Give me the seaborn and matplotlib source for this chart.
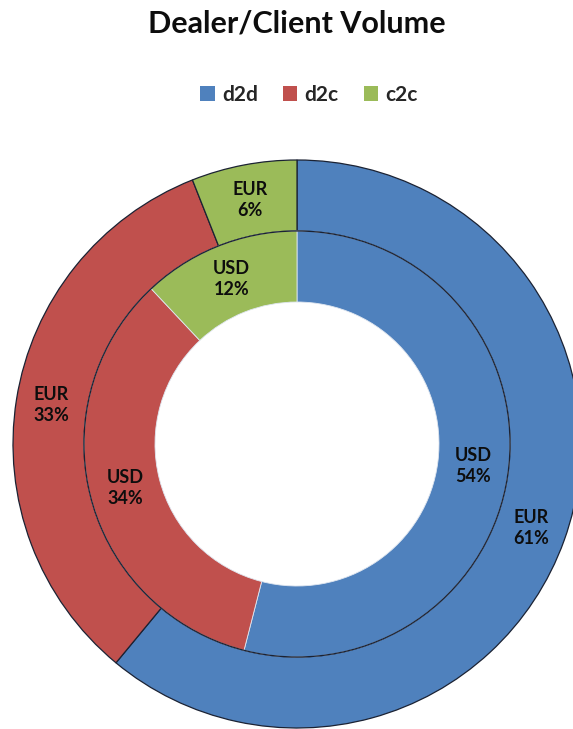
import numpy as np
import matplotlib
matplotlib.use("Agg")
import matplotlib.pyplot as plt
import seaborn as sns
from matplotlib.patches import Patch, Circle

# data
segments = ["d2d", "d2c", "c2c"]
eur_share = [61, 33, 6]   # outer ring
usd_share = [54, 34, 12]  # inner ring

sns.set_style("white")
plt.rcParams['font.family'] = ['Lato', 'DejaVu Sans']

colors = ["#4F81BD", "#C0504D", "#9BBB59"]
edge_dark = "#1b2233"
txt = "#0d0d0d"

W, H = 573, 729
fig = plt.figure(figsize=(W / 100, H / 100), dpi=100)
ax = fig.add_axes([0, 0, 1, 1])

# pixel geometry of the donut
cx, cy, R = 297, 444, 284
ring = 71 / R

lbl = dict(ha="center", va="center", fontsize=13, fontweight="bold",
           color=txt, linespacing=1.3)
ax.pie(eur_share, radius=1, startangle=90, counterclock=False, colors=colors,
       labels=[f"EUR\n{v}%" for v in eur_share], labeldistance=1 - ring / 2,
       wedgeprops=dict(width=ring, edgecolor=edge_dark, linewidth=0.9),
       textprops=lbl)
r_in = 1 - ring
ax.pie(usd_share, radius=r_in, startangle=90, counterclock=False, colors=colors,
       labels=[f"USD\n{v}%" for v in usd_share], labeldistance=(r_in - ring / 2) / r_in,
       wedgeprops=dict(width=ring, edgecolor="#dfe6f0", linewidth=0.6),
       textprops=lbl)
ax.add_patch(Circle((0, 0), r_in, fill=False, edgecolor=edge_dark, linewidth=0.9))

ax.set_xlim(-cx / R, (W - cx) / R)
ax.set_ylim(-(H - cy) / R, cy / R)
ax.set_aspect("auto")
ax.axis("off")

fig.text(cx / W, 1 - 23 / H, "Dealer/Client Volume", ha="center", va="center",
         fontsize=22, fontweight="bold", color=txt)

handles = [Patch(facecolor=c, edgecolor="none") for c in colors]
fig.legend(handles, segments, loc="center", bbox_to_anchor=(309 / W, 1 - 95 / H),
           ncol=3, frameon=False, handlelength=0.7, handleheight=0.7,
           handletextpad=0.35, columnspacing=1.2,
           prop=dict(weight="bold", size=15))

fig.savefig("out.png", dpi=100)
